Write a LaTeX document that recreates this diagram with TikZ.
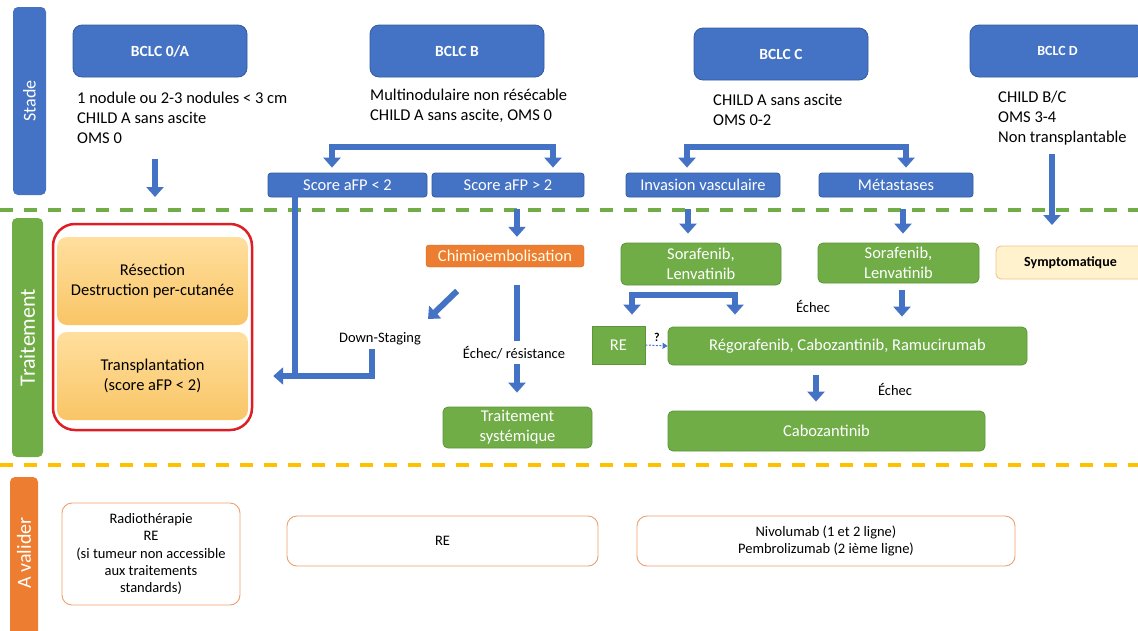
\documentclass[tikz,border=0pt]{standalone}
\usepackage{fontspec}
\setmainfont{Carlito}
\usetikzlibrary{arrows.meta,calc}

\definecolor{bclcblue}{RGB}{68,114,196}
\definecolor{bclcedge}{RGB}{52,90,160}
\definecolor{txgreen}{RGB}{112,173,71}
\definecolor{txedge}{RGB}{92,150,58}
\definecolor{chimioorange}{RGB}{237,125,49}
\definecolor{dashyellow}{RGB}{255,192,0}
\definecolor{redframe}{RGB}{222,30,36}
\definecolor{localtop}{RGB}{255,223,158}
\definecolor{localbottom}{RGB}{249,197,102}
\definecolor{creamfill}{RGB}{255,242,204}
\definecolor{creamedge}{RGB}{240,196,140}
\definecolor{validedge}{RGB}{236,160,110}

\def\stagefont{\fontsize{15.5}{18}\selectfont\bfseries}
\def\boxfont{\fontsize{16.5}{20}\selectfont}
\def\critfont{\fontsize{16.5}{20}\selectfont}
\def\notefont{\fontsize{14.5}{17}\selectfont}
\def\smallfont{\fontsize{14.5}{17.2}\selectfont}

\tikzset{
  bandlabel/.style={rounded corners=5pt, inner sep=0pt, text=white, rotate=90},
  stagebox/.style={draw=bclcedge, fill=bclcblue, rounded corners=9pt, line width=0.8pt,
    minimum height=52pt, inner sep=0pt, text=white, font=\stagefont},
  scorebox/.style={draw=bclcedge, fill=bclcblue, rounded corners=3pt, line width=0.8pt,
    minimum height=24pt, inner sep=0pt, text=white, font=\boxfont},
  txbox/.style={draw=txedge, fill=txgreen, rounded corners=5pt, line width=0.8pt,
    inner sep=0pt, align=center, text=white, font=\boxfont},
  localbox/.style={top color=localtop, bottom color=localbottom, rounded corners=10pt,
    minimum width=191pt, minimum height=88pt, inner sep=0pt, align=center, font=\boxfont},
  validbox/.style={draw=validedge, fill=white, rounded corners=10pt, line width=0.9pt,
    inner sep=0pt, align=center, font=\smallfont},
  crit/.style={anchor=base west, align=left, inner sep=0pt, font=\critfont},
  note/.style={inner sep=0pt, font=\notefont},
  blockline/.style={draw=bclcblue, line width=6pt, line cap=rect},
  blockarrow/.style={blockline, -{Triangle[length=10pt,width=17pt]}},
  blockfork/.style={blockline, {Triangle[length=10pt,width=17pt]}-{Triangle[length=10pt,width=17pt]}},
  sepline/.style={line width=3.5pt, dash pattern=on 13pt off 11pt},
}

\begin{document}
\begin{tikzpicture}[x=1pt,y=-1pt]
	%%%%% START %%%%%
	\useasboundingbox (0,0) rectangle (1138,630);
	\clip (0,0) rectangle (1138,630);
	
	% bands on the left
	\node[bandlabel, fill=bclcblue, minimum width=188pt, minimum height=33pt, font=\fontsize{18}{20}\selectfont] (stade) at (29.5,101) {Stade};
	\node[bandlabel, fill=txgreen, minimum width=239pt, minimum height=31pt, font=\fontsize{22}{24}\selectfont] (traitement) at (27.5,337.5) {Traitement};
	\path[fill=chimioorange, rounded corners=5pt] (10,477) rectangle (38,645);
	\node[bandlabel, font=\fontsize{20}{22}\selectfont] (avalider) at (24,553) {A valider};
	
	\draw[sepline, draw=txgreen] (0,210) -- (1138,210);
	\draw[sepline, draw=dashyellow] (0,465) -- (1138,465);
	
	% stades
	\node[stagebox, minimum width=174pt] (bclcA) at (160,51) {BCLC 0/A};
	\node[stagebox, minimum width=174pt] (bclcB) at (457,51) {BCLC B};
	\node[stagebox, minimum width=174pt] (bclcC) at (781,54) {BCLC C};
	\node[stagebox, minimum width=175pt, font=\fontsize{14}{16}\selectfont\bfseries] (bclcD) at (1057.5,51) {BCLC D};
	
	% base = last line
	\node[crit] (critA) at (77,143.5) {1 nodule ou 2-3 nodules < 3 cm\\CHILD A sans ascite\\OMS 0};
	\node[crit] (critB) at (370,120.5) {Multinodulaire non résécable\\CHILD A sans ascite, OMS 0};
	\node[crit] (critC) at (713,125.5) {CHILD A sans ascite\\OMS 0-2};
	\node[crit] (critD) at (998,142.5) {CHILD B/C\\OMS 3-4\\Non transplantable};
	
	\node[scorebox, minimum width=159pt] (scoreLow) at (347.5,185) {Score aFP < 2};
	\node[scorebox, minimum width=152pt] (scoreHigh) at (508,185) {Score aFP > 2};
	\node[scorebox, minimum width=154pt] (invasion) at (703,185) {Invasion vasculaire};
	\node[scorebox, minimum width=154pt] (metas) at (896,185) {Métastases};
	
	% traitements
	\node[draw=redframe, line width=2.5pt, rounded corners=22pt, minimum width=199pt, minimum height=206pt, inner sep=0pt] (localframe) at (152.5,327) {};
	\node[localbox] (resection) at (152.5,281) {Résection\\Destruction per-cutanée};
	\node[localbox] (transplant) at (152.5,376) {Transplantation\\(score aFP < 2)};
	
	\node[draw=chimioorange!85!black, fill=chimioorange, rounded corners=3pt, minimum width=158pt, minimum height=22pt, inner sep=0pt, text=white!92!yellow, font=\boxfont] (chimio) at (505,256) {Chimioembolisation};
	\node[txbox, minimum width=149pt, minimum height=41pt] (systemic) at (517.5,427.5) {Traitement\\systémique};
	
	\node[txbox, minimum width=160pt, minimum height=42pt] (sorafA) at (701,264) {Sorafenib,\\Lenvatinib};
	\node[txbox, minimum width=161pt, minimum height=40pt] (sorafB) at (898.5,263) {Sorafenib,\\Lenvatinib};
	\node[draw=creamedge, fill=creamfill, rounded corners=5pt, line width=0.9pt, minimum width=149pt, minimum height=33pt, inner sep=0pt, font=\fontsize{14}{16}\selectfont\bfseries] (sympto) at (1070.5,262.5) {Symptomatique};
	
	\node[txbox, rounded corners=0pt, minimum width=53pt, minimum height=38pt] (reBox) at (618.5,345) {RE};
	\node[txbox, minimum width=359pt, minimum height=38pt] (regor) at (847.5,346) {Régorafenib, Cabozantinib, Ramucirumab};
	\node[txbox, minimum width=317pt, minimum height=40pt] (cabo) at (826.5,431) {Cabozantinib};
	
	\node[note] (downstaging) at (380,339) {Down-Staging};
	\node[note] (echecRes) at (514,353) {Échec/ résistance};
	\node[note] (echecA) at (813,306) {Échec};
	\node[note] (echecB) at (895,389) {Échec};
	\node[inner sep=0pt, font=\fontsize{12}{14}\selectfont\bfseries] (question) at (657,337) {?};
	
	% a valider
	\node[validbox, minimum width=178pt, minimum height=102pt] (radio) at (151,554) {Radiothérapie\\RE\\(si tumeur non accessible\\aux traitements\\standards)};
	\node[validbox, minimum width=311pt, minimum height=50pt] (reValid) at (442.5,541) {RE};
	\node[validbox, minimum width=378pt, minimum height=50pt] (nivo) at (826,541) {Nivolumab (1 et 2 ligne)\\Pembrolizumab (2 ième ligne)};
	
	% fleches
	\coordinate (aFrom) at (155,162);
	\coordinate (aTo) at (155,197);
	\draw[blockarrow] (aFrom) -- (aTo);
	
	\coordinate (forkBL) at (332,147);
	\coordinate (forkBR) at (553,147);
	\draw[blockfork] ([yshift=5pt]scoreLow.north -| forkBL) -- (forkBL) -- (forkBR) -- ([yshift=5pt]scoreHigh.north -| forkBR);
	
	\coordinate (forkCL) at (687,147);
	\coordinate (forkCR) at (906,147);
	\draw[blockfork] ([yshift=5pt]invasion.north -| forkCL) -- (forkCL) -- (forkCR) -- ([yshift=5pt]metas.north -| forkCR);
	
	\coordinate (dFrom) at (1052,157);
	\coordinate (dTo) at (1052,225);
	\draw[blockarrow] (dFrom) -- (dTo);
	
	\coordinate (lowDrop) at (295,376);
	\coordinate (dsTop) at (372,352);
	\coordinate (dsCorner) at (372,376);
	\draw[blockline] (scoreLow.south -| lowDrop) -- (lowDrop);
	\draw[blockarrow] (dsTop) -- (dsCorner) -- ([xshift=25pt]transplant.east);
	
	\coordinate (diagFrom) at (455,293);
	\coordinate (diagTo) at (428,319);
	\draw[blockarrow] (diagFrom) -- (diagTo);
	
	\coordinate (highFrom) at (517,212);
	\draw[blockarrow] (highFrom) -- ([yshift=8pt]chimio.north -| highFrom);
	\coordinate (chimioBar) at (517,288);
	\draw[blockline] (chimioBar) -- ++(0,50);
	\coordinate (resFrom) at (517,367);
	\draw[blockarrow] (resFrom) -- ([yshift=14pt]systemic.north -| resFrom);
	
	\coordinate (invFrom) at (688,212);
	\draw[blockarrow] (invFrom) -- ([yshift=9pt]sorafA.north -| invFrom);
	\coordinate (metFrom) at (903,212);
	\draw[blockarrow] (metFrom) -- ([yshift=9pt]sorafB.north -| metFrom);
	
	\coordinate (forkSL) at (632,295);
	\coordinate (forkSR) at (735,295);
	\draw[blockfork] ([yshift=11pt]reBox.north -| forkSL) -- (forkSL) -- (forkSR) -- ([yshift=12pt]regor.north -| forkSR);
	
	\coordinate (sorafBDrop) at (902,293);
	\draw[blockarrow] (sorafBDrop) -- ([yshift=10pt]regor.north -| sorafBDrop);
	\coordinate (regorDrop) at (816,378);
	\draw[blockarrow] (regorDrop) -- ([yshift=9pt]cabo.north -| regorDrop);
	
	\draw[draw=bclcblue, line width=1pt, dash pattern=on 2pt off 1.5pt, -{Triangle[length=5pt,width=6pt]}] (reBox.east) -- (regor.west);
	%%%%% END %%%%%
\end{tikzpicture}
\end{document}
